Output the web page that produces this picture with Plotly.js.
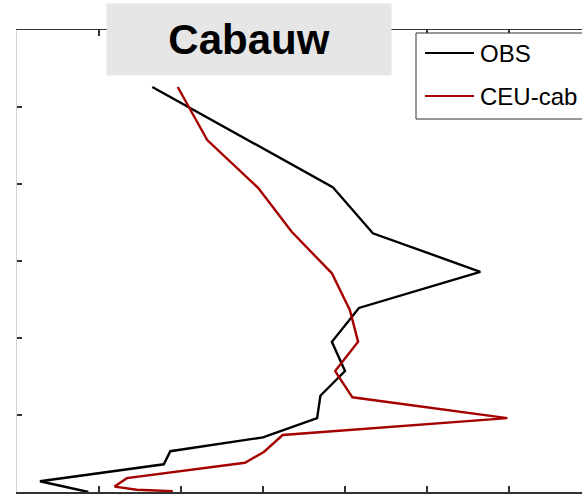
<!DOCTYPE html>
<html>
<head>
<meta charset="utf-8">
<script src="https://cdn.plot.ly/plotly-3.0.1.min.js"></script>
<style>html,body{margin:0;padding:0;background:#fff;}#chart{width:582px;height:495px;}</style>
</head>
<body>
<div id="chart"></div>
<script>
// Vertical profiles (abstract units: x = value, y = height)
const titleText = "Cabauw";
const seriesNames = ["OBS", "CEU-cab"];
const obsX = [1.65, 3.85, 4.34, 5.65, 4.17, 3.84, 4.00, 3.70, 3.66, 3.00, 1.87, 1.79, 0.28, 0.87];
const obsY = [5.26, 3.96, 3.36, 2.86, 2.39, 1.95, 1.57, 1.25, 0.96, 0.71, 0.53, 0.36, 0.14, 0.00];
const ceuX = [1.96, 2.32, 2.94, 3.35, 3.84, 4.06, 4.16, 3.88, 4.09, 5.98, 3.24, 3.01, 2.78, 1.34, 1.19, 1.46, 1.90];
const ceuY = [5.26, 4.57, 3.95, 3.38, 2.84, 2.36, 1.95, 1.57, 1.23, 0.96, 0.74, 0.52, 0.38, 0.18, 0.07, 0.03, 0.01];
const xTicks = [0, 1, 2, 3, 4, 5, 6];
const yTicks = [0, 1, 2, 3, 4, 5, 6];
const colors = ["#000000", "#a50000"];

const traces = [
  {x: obsX, y: obsY, name: seriesNames[0], mode: "lines", line: {color: colors[0], width: 2.4}, showlegend: false},
  {x: ceuX, y: ceuY, name: seriesNames[1], mode: "lines", line: {color: colors[1], width: 2.4}, showlegend: false}
];

// pixel helpers for paper coordinates (plot area 17..582 x 30..492)
const W = 582, H = 495, L = 17, T = 30, B = 3;
const px = v => (v - L) / (W - L);
const py = v => (H - B - v) / (H - B - T);

const layout = {
  width: W, height: H,
  margin: {l: L, r: 0, t: T, b: B, pad: 0},
  paper_bgcolor: "#ffffff", plot_bgcolor: "#ffffff",
  showlegend: false,
  xaxis: {
    range: [0, (W - L) / 82], tickvals: xTicks, showticklabels: false,
    ticks: "inside", ticklen: 6, tickcolor: "#333", tickwidth: 1.3,
    showline: true, linecolor: "#333", linewidth: 1.5, mirror: "ticks",
    showgrid: false, zeroline: false, fixedrange: true
  },
  yaxis: {
    range: [0, 6], tickvals: yTicks, showticklabels: false,
    ticks: "inside", ticklen: 5, tickcolor: "#333", tickwidth: 1.3,
    showline: true, linecolor: "#d4d4d4", linewidth: 1.3, mirror: false,
    showgrid: false, zeroline: false, fixedrange: true
  },
  shapes: [
    {type: "rect", xref: "paper", yref: "paper", x0: px(416), x1: px(610), y0: py(119), y1: py(33),
     line: {color: "#333", width: 1}, fillcolor: "#ffffff", layer: "above"},
    {type: "line", xref: "paper", yref: "paper", x0: px(425), x1: px(474), y0: py(53), y1: py(53),
     line: {color: colors[0], width: 2}, layer: "above"},
    {type: "line", xref: "paper", yref: "paper", x0: px(425), x1: px(474), y0: py(96), y1: py(96),
     line: {color: colors[1], width: 2}, layer: "above"}
  ],
  annotations: [
    {xref: "paper", yref: "paper", x: px(249), y: py(39.5), xanchor: "center", yanchor: "middle",
     text: "<b>" + titleText + "</b>", showarrow: false, width: 284, height: 71,
     bgcolor: "#e6e6e6", borderpad: 0,
     font: {family: "Liberation Sans, Arial, sans-serif", size: 42, color: "#000"}},
    {xref: "paper", yref: "paper", x: px(478), y: py(53), xanchor: "left", yanchor: "middle",
     text: seriesNames[0], showarrow: false,
     font: {family: "Liberation Sans, Arial, sans-serif", size: 24, color: "#000"}},
    {xref: "paper", yref: "paper", x: px(478), y: py(96), xanchor: "left", yanchor: "middle",
     text: seriesNames[1], showarrow: false,
     font: {family: "Liberation Sans, Arial, sans-serif", size: 24, color: "#000"}}
  ]
};

Plotly.newPlot("chart", traces, layout, {staticPlot: true, displayModeBar: false});
</script>
</body>
</html>
